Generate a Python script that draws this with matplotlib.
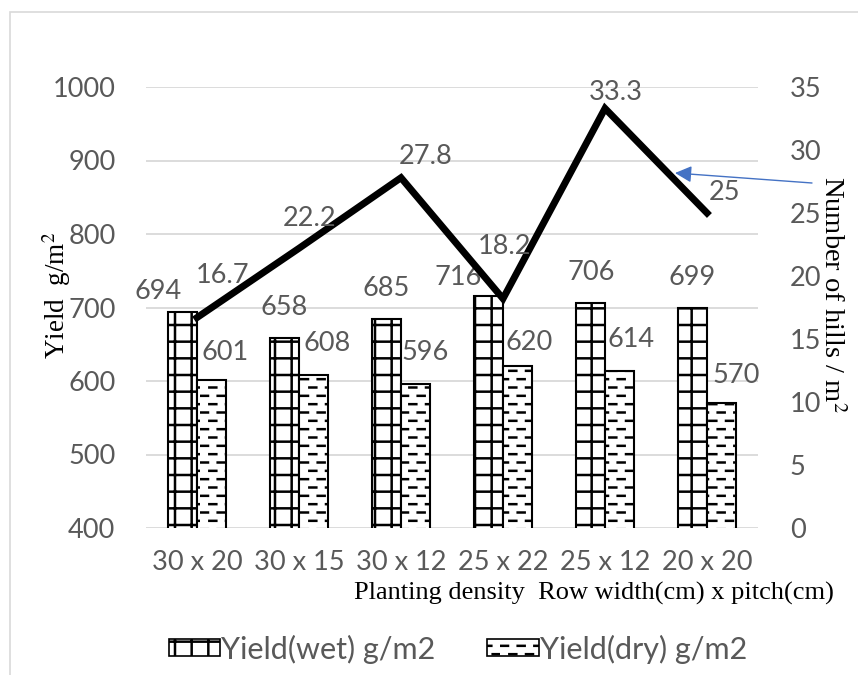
import matplotlib
matplotlib.use("Agg")
import matplotlib.pyplot as plt
import matplotlib.hatch as mhatch
from matplotlib.path import Path
from matplotlib.patches import Rectangle, Patch
import numpy as np

# ---------------- data ----------------
categories = ["30 x 20", "30 x 15", "30 x 12", "25 x 22", "25 x 12", "20 x 20"]
yield_wet = [694, 658, 685, 716, 706, 699]
yield_dry = [601, 608, 596, 620, 614, 570]
hills = [16.7, 22.2, 27.8, 18.2, 33.3, 25]
hill_labels = ["16.7", "22.2", "27.8", "18.2", "33.3", "25"]
left_ticks = [400, 500, 600, 700, 800, 900, 1000]
right_ticks = [0, 5, 10, 15, 20, 25, 30, 35]

# label offsets (pixels) for data labels
wet_off = [(-24, 20), (0, 31), (0, 30), (-30, 18), (1, 31), (0, 31)]
dry_off = [(14, 28), (14, 32), (10, 31), (12, 24), (12, 31), (15, 28)]
hill_off = [(26, 42), (11, 30), (25, 21), (2, 52), (11, 16), (18, 21)]


# ---------------- custom dashed hatch ('o' reused) ----------------
class DashHatch(mhatch.HatchPatternBase):
    def __init__(self, hatch, density):
        n = hatch.count('o')
        self.rows = 12 * n
        self.cols = 6
        self.num_vertices = self.rows * self.cols * 2

    def set_vertices_and_codes(self, vertices, codes):
        k = 0
        step = 1.0 / self.cols
        for r in range(self.rows):
            y = (r + 0.5) / self.rows
            off = step / 2 if r % 2 else 0.0
            for c in range(self.cols):
                x0 = c * step + off + 0.01
                vertices[k] = (x0, y)
                vertices[k + 1] = (x0 + 0.07, y)
                codes[k] = Path.MOVETO
                codes[k + 1] = Path.LINETO
                k += 2


mhatch._hatch_types = [t for t in mhatch._hatch_types if t is not mhatch.SmallCircles] + [DashHatch]

plt.rcParams['font.family'] = ['Lato', 'DejaVu Sans']
plt.rcParams['hatch.linewidth'] = 1.8
plt.rcParams['mathtext.fontset'] = 'stix'

W, H = 858, 675
fig = plt.figure(figsize=(W / 100, H / 100), dpi=100)
gray = '#595959'
fs = 19.5


def fx(px):
    return px / W


def fy(py):
    return 1 - py / H


ax = fig.add_axes([fx(146), fy(528), fx(758) - fx(146), fy(87) - fy(528)])
x = np.arange(len(categories))
bw = 0.285
wet_bars = ax.bar(x - bw / 2, yield_wet, bw, facecolor='white', edgecolor='black',
                  hatch='+', linewidth=1.5, zorder=2)
dry_bars = ax.bar(x + bw / 2, yield_dry, bw, facecolor='white', edgecolor='black',
                  hatch='o', linewidth=1.5, zorder=2)
ax.set_ylim(400, 1000)
ax.set_xlim(-0.5, len(categories) - 0.5)
ax.set_yticks(left_ticks)
ax.set_xticks(x)
ax.set_xticklabels(categories)
ax.grid(axis='y', color='#d9d9d9', linewidth=1.3, zorder=0)
ax.set_axisbelow(True)
for s in ax.spines.values():
    s.set_visible(False)
ax.tick_params(axis='both', length=0, labelsize=fs, labelcolor=gray)
ax.tick_params(axis='y', pad=22)
ax.tick_params(axis='x', pad=16)

for i, (b, v) in enumerate(zip(wet_bars, yield_wet)):
    ax.annotate(str(v), (b.get_x() + b.get_width() / 2, v), xytext=wet_off[i],
                textcoords='offset pixels', ha='center', va='center',
                fontsize=fs, color=gray, zorder=3)
for i, (b, v) in enumerate(zip(dry_bars, yield_dry)):
    ax.annotate(str(v), (b.get_x() + b.get_width() / 2, v), xytext=dry_off[i],
                textcoords='offset pixels', ha='center', va='center',
                fontsize=fs, color=gray, zorder=3)

ax2 = ax.twinx()
ax2.plot(x, hills, color='black', linewidth=5, solid_joinstyle='miter', zorder=4)
ax2.set_ylim(0, 35)
ax2.set_yticks(right_ticks)
for s in ax2.spines.values():
    s.set_visible(False)
ax2.tick_params(axis='y', length=0, labelsize=fs, labelcolor=gray, pad=23)
for i, (v, t) in enumerate(zip(hills, hill_labels)):
    ax2.annotate(t, (x[i], v), xytext=hill_off[i], textcoords='offset pixels',
                 ha='center', va='center', fontsize=fs, color=gray, zorder=5)

# axis titles
fig.text(fx(594), fy(593), "Planting density  Row width(cm) x pitch(cm)",
         family='Liberation Serif', fontsize=19, ha='center', va='center', color='black')
fig.text(fx(57), fy(295), "Yield  g/m$^2$", family='Liberation Serif', fontsize=19.5,
         rotation=90, ha='center', va='center', color='black')
fig.text(fx(831), fy(294), "Number of hills / m$^2$", family='Liberation Serif', fontsize=20.5,
         rotation=-90, ha='center', va='center', color='black')

# arrow
fig.add_artist(matplotlib.patches.FancyArrowPatch(
    (fx(812), fy(183)), (fx(675), fy(173)), transform=fig.transFigure,
    arrowstyle='-|>,head_length=10,head_width=5', color='#4472C4', linewidth=1,
    mutation_scale=1, shrinkA=0, shrinkB=0))

# legend
handles = [Patch(facecolor='white', edgecolor='black', hatch='+', linewidth=1.2),
           Patch(facecolor='white', edgecolor='black', hatch='o', linewidth=1.2)]
leg = fig.legend(handles, ["Yield(wet) g/m2", "Yield(dry) g/m2"], loc='center',
                 bbox_to_anchor=(fx(458), fy(649)), ncol=2, frameon=False,
                 fontsize=22, handlelength=1.67, handleheight=0.5, handletextpad=0.05,
                 columnspacing=1.7, labelcolor=gray)

# chart border
fig.add_artist(Rectangle((fx(10), -0.1), 1.2, fy(12) + 0.1, transform=fig.transFigure,
                         fill=False, edgecolor='#d9d9d9', linewidth=1.2))

fig.savefig("out.png", dpi=100)
